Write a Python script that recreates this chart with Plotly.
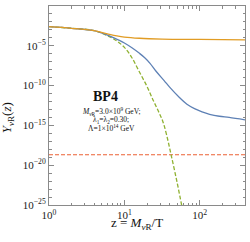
import plotly.graph_objects as go

# log10(z) and log10(Y)
logz_orange = [0.0, 0.3, 0.6, 0.8, 0.9, 1.0, 1.2, 1.5, 2.0, 2.6]
logy_orange = [-2.6, -2.8, -3.1, -3.55, -3.75, -3.9, -4.05, -4.15, -4.2, -4.25]

logz_blue = [0.0, 0.3, 0.6, 0.8, 0.94, 1.0, 1.1, 1.2, 1.27, 1.34, 1.42, 1.53, 1.6,
             1.73, 1.83, 1.93, 2.03, 2.13, 2.26, 2.39, 2.6]
logy_blue = [-2.6, -2.8, -3.1, -3.75, -4.35, -4.65, -5.25, -5.95, -6.5, -7.2, -8.2,
             -9.4, -10.2, -11.5, -12.35, -12.9, -13.3, -13.6, -13.85, -14.0, -14.3]

logz_green = [0.0, 0.3, 0.6, 0.8, 0.9, 1.0, 1.1, 1.2, 1.3, 1.38, 1.45, 1.51, 1.56,
              1.62, 1.7, 1.78]
logy_green = [-2.6, -2.8, -3.1, -3.85, -4.4, -5.2, -6.5, -8.3, -10.1, -11.8, -13.2,
              -14.5, -16.2, -18.7, -22.2, -26.0]

logz_red = [0.0, 2.6]
logy_red = [-18.68, -18.68]

x_ticks = [1, 10, 100]
x_ticklabels = ["10<sup>0</sup>", "10<sup>1</sup>", "10<sup>2</sup>"]
y_ticks = [1, 1e-5, 1e-10, 1e-15, 1e-20, 1e-25]
y_ticklabels = ["10<sup>0</sup>", "10<sup>−5</sup>", "10<sup>−10</sup>",
                "10<sup>−15</sup>", "10<sup>−20</sup>", "10<sup>−25</sup>"]

BLUE = "#5E81B5"
ORANGE = "#E19C24"
GREEN = "#8FB131"
RED = "#EB6235"
FRAME = "#8a8a8a"
FONT = "Liberation Serif"

def tolin(v):
    return [10 ** a for a in v]

fig = go.Figure()
fig.add_trace(go.Scatter(x=tolin(logz_red), y=tolin(logy_red), mode="lines",
                         line=dict(color=RED, width=1.1, dash="4px,2px")))
fig.add_trace(go.Scatter(x=tolin(logz_green), y=tolin(logy_green), mode="lines",
                         line=dict(color=GREEN, width=1.3, dash="4px,2px", shape="spline")))
fig.add_trace(go.Scatter(x=tolin(logz_blue), y=tolin(logy_blue), mode="lines",
                         line=dict(color=BLUE, width=1.3, shape="spline")))
fig.add_trace(go.Scatter(x=tolin(logz_orange), y=tolin(logy_orange), mode="lines",
                         line=dict(color=ORANGE, width=1.3, shape="spline")))

axcommon = dict(type="log", showgrid=False, zeroline=False, showline=True,
                linecolor=FRAME, linewidth=1, mirror="allticks", ticks="inside",
                tickcolor=FRAME, ticklen=5, tickwidth=1, automargin=False,
                tickfont=dict(family=FONT, size=11, color="#222"))

fig.update_xaxes(range=[0, 2.6], tickvals=x_ticks, ticktext=x_ticklabels,
                 minor=dict(ticks="inside", ticklen=2.5, tickcolor=FRAME,
                            tickvals=[a * b for b in (1, 10, 100) for a in range(2, 10)]),
                 **axcommon)
fig.update_yaxes(range=[-25, 0], tickvals=y_ticks, ticktext=y_ticklabels,
                 minor=dict(ticks="inside", ticklen=2.5, tickcolor=FRAME,
                            tickvals=[10 ** -k for k in range(0, 26) if k % 5 != 0]),
                 **axcommon)

ann_font = dict(family=FONT, color="#111")
fig.add_annotation(xref="paper", yref="paper", x=0.45, y=-0.095, showarrow=False,
                   xanchor="center", yanchor="middle",
                   text="z = <i>M</i><sub><i>ν</i>R</sub>/T",
                   font=dict(size=13, **ann_font))
fig.add_annotation(xref="paper", yref="paper", x=-0.21, y=0.44, showarrow=False,
                   xanchor="center", yanchor="middle", textangle=-90,
                   text="<i>Y</i><sub><i>ν</i>R</sub>(<i>z</i>)",
                   font=dict(size=13, **ann_font))
fig.add_annotation(xref="paper", yref="paper", x=0.29, y=0.543, showarrow=False,
                   xanchor="center", yanchor="middle",
                   text="<b>BP4</b>", font=dict(size=14, **ann_font))
fig.add_annotation(xref="paper", yref="paper", x=0.318, y=0.47, showarrow=False,
                   xanchor="center", yanchor="middle",
                   text="<i>M</i><sub><i>ν</i>R</sub>=3.0×10<sup>9</sup> GeV;",
                   font=dict(size=7.5, **ann_font))
fig.add_annotation(xref="paper", yref="paper", x=0.318, y=0.427, showarrow=False,
                   xanchor="center", yanchor="middle",
                   text="λ<sub>1</sub>=λ<sub>2</sub>=0.30;",
                   font=dict(size=7.5, **ann_font))
fig.add_annotation(xref="paper", yref="paper", x=0.318, y=0.385, showarrow=False,
                   xanchor="center", yanchor="middle",
                   text="Λ=1×10<sup>14</sup> GeV",
                   font=dict(size=7.5, **ann_font))

fig.update_layout(width=250, height=242, showlegend=False,
                  margin=dict(l=49, r=5, t=6, b=37, autoexpand=False),
                  paper_bgcolor="white", plot_bgcolor="white")
fig.write_html("out.html", config={"displayModeBar": False},
               post_script="document.body.style.margin='0';document.body.style.overflow='hidden';")
